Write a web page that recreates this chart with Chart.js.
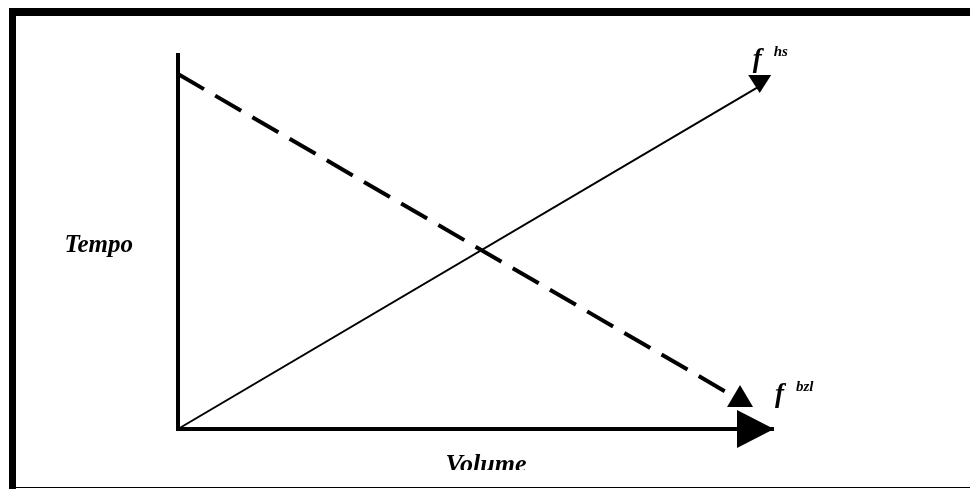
<!DOCTYPE html>
<html>
<head>
<meta charset="utf-8">
<script src="https://cdn.jsdelivr.net/npm/chart.js@4"></script>
<style>
  html, body { margin: 0; padding: 0; background: #fff; }
  #wrap { position: relative; width: 970px; height: 489px; }
</style>
</head>
<body>
<div id="wrap"><canvas id="chart" width="970" height="489"></canvas></div>
<script>
/* ===============================
   DATA (arbitrary units, 0..100)
================================ */
const axisMax = 100;
const axisX = [0, 0, axisMax];          // y-axis top -> origin -> x-axis end
const axisY = [axisMax, 0, 0];

const hsVolume = [0, 97.6];              // f hs : tempo grows with volume
const hsTempo = [0, 91.2];

const bzlVolume = [0, 94.3];             // f bzl : tempo falls with volume
const bzlTempo = [94.4, 7.7];

const axisLabels = ["Volume", "Tempo"];
const curveNames = ["hs", "bzl"];

const toPoints = (xs, ys) => xs.map((x, i) => ({ x: x, y: ys[i] }));

/* ===============================
   ARROWHEADS (style only)
================================ */
// angle in degrees (canvas coords), len = head length, half = half base, shift = tip offset from line end
const arrowStyles = {
    0: { angle: 0, len: 37, half: 19, shift: 0 },
    1: { angle: 90, len: 18, half: 11.5, shift: 7 },
    2: { angle: -90, len: 22, half: 13, shift: 15 }
};

const FONT = '"Liberation Serif", "Times New Roman", serif';

const framePlugin = {
    id: "frame",
    beforeDraw(chart) {
        const c = chart.ctx;
        c.save();
        c.fillStyle = "#fff";
        c.fillRect(0, 0, chart.width, chart.height);
        c.fillStyle = "#000";
        c.fillRect(9, 8, chart.width - 9, 8);
        c.fillRect(9, 8, 7, chart.height - 8);
        c.fillRect(16, 487, chart.width - 16, 1);
        c.restore();
    }
};

const decorPlugin = {
    id: "decor",
    afterDatasetsDraw(chart) {
        const c = chart.ctx;
        const area = chart.chartArea;
        c.save();
        c.fillStyle = "#000";

        // arrowheads at the last point of each dataset
        Object.keys(arrowStyles).forEach((k) => {
            const meta = chart.getDatasetMeta(+k);
            const pts = meta.data;
            const end = pts[pts.length - 1];
            const s = arrowStyles[k];
            const a = s.angle * Math.PI / 180;
            const dx = Math.cos(a), dy = Math.sin(a);
            const tx = end.x + dx * s.shift, ty = end.y + dy * s.shift;
            const bx = tx - dx * s.len, by = ty - dy * s.len;
            c.beginPath();
            c.moveTo(tx, ty);
            c.lineTo(bx - dy * s.half, by + dx * s.half);
            c.lineTo(bx + dy * s.half, by - dx * s.half);
            c.closePath();
            c.fill();
        });

        // axis titles
        c.font = "italic bold 25px " + FONT;
        c.textAlign = "right";
        c.textBaseline = "alphabetic";
        c.fillText(axisLabels[1], area.left - 45, (area.top + area.bottom) / 2 + 11);

        c.save();
        c.beginPath();
        c.rect(0, 0, chart.width, area.bottom + 41);
        c.clip();
        c.font = "italic bold 26px " + FONT;
        c.textAlign = "center";
        c.fillText(axisLabels[0], (area.left + area.right) / 2 + 10, area.bottom + 43);
        c.restore();

        // curve names f^hs, f^bzl
        const hsEnd = chart.getDatasetMeta(1).data.slice(-1)[0];
        const bzlEnd = chart.getDatasetMeta(2).data.slice(-1)[0];
        const drawName = (x, y, sup) => {
            c.textAlign = "left";
            c.font = "italic bold 27px " + FONT;
            c.fillText("f", x, y);
            c.font = "italic bold 15px " + FONT;
            c.fillText(sup, x + 21, y - 11);
        };
        drawName(hsEnd.x - 7, hsEnd.y - 19, curveNames[0]);
        drawName(bzlEnd.x + 35, bzlEnd.y + 2, curveNames[1]);

        c.restore();
    }
};

new Chart(document.getElementById("chart"), {
    type: "scatter",
    data: {
        datasets: [
            {
                data: toPoints(axisX, axisY),
                borderColor: "#000",
                borderWidth: 4,
                borderJoinStyle: "miter",
                borderCapStyle: "butt"
            },
            {
                data: toPoints(hsVolume, hsTempo),
                borderColor: "#000",
                borderWidth: 2
            },
            {
                data: toPoints(bzlVolume, bzlTempo),
                borderColor: "#000",
                borderWidth: 4,
                borderDash: [30, 13],
                borderCapStyle: "butt"
            }
        ]
    },
    options: {
        responsive: false,
        animation: false,
        showLine: true,
        layout: { padding: { left: 178, right: 196, top: 53, bottom: 60 } },
        elements: {
            point: { radius: 0, hoverRadius: 0 },
            line: { tension: 0, fill: false }
        },
        datasets: { scatter: { clip: false } },
        plugins: { legend: { display: false }, tooltip: { enabled: false } },
        scales: {
            x: { type: "linear", min: 0, max: axisMax, display: false },
            y: { type: "linear", min: 0, max: axisMax, display: false }
        }
    },
    plugins: [framePlugin, decorPlugin]
});
</script>
</body>
</html>
